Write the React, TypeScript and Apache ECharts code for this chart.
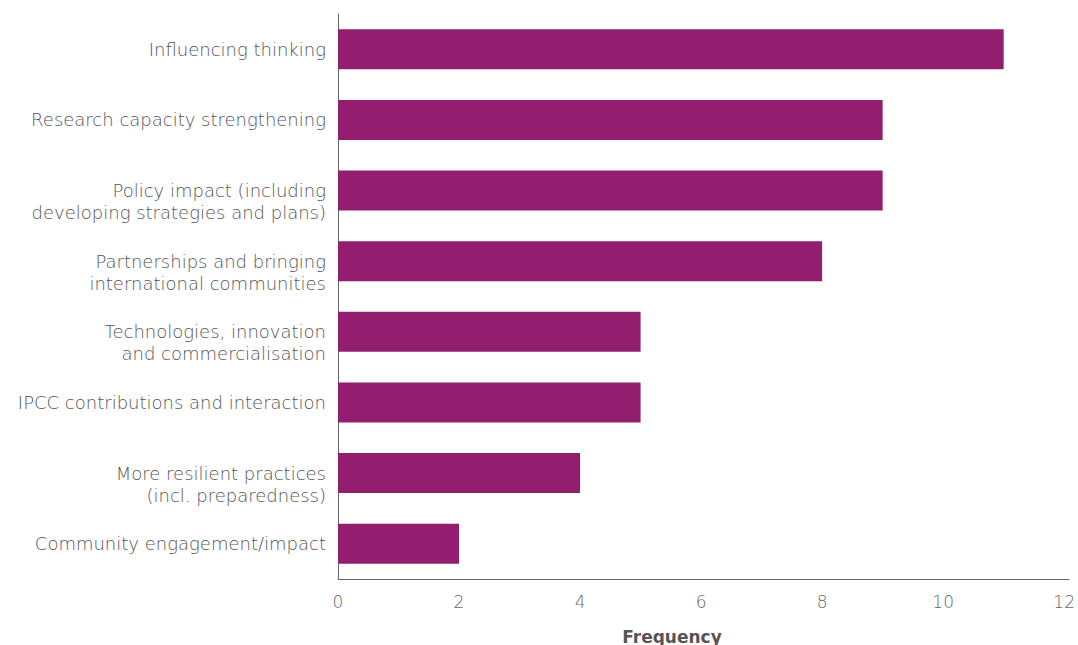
import React, { useEffect, useRef } from "react";
import * as echarts from "echarts";

const categories = [
  "Influencing thinking",
  "Research capacity strengthening",
  "Policy impact (including\ndeveloping strategies and plans)",
  "Partnerships and bringing\ninternational communities",
  "Technologies, innovation\nand commercialisation",
  "IPCC contributions and interaction",
  "More resilient practices\n(incl. preparedness)",
  "Community engagement/impact",
];
const frequencies = [11, 9, 9, 8, 5, 5, 4, 2];
const xTicks = [0, 2, 4, 6, 8, 10, 12];
const axisTitle = "Frequency";

export default function App() {
  const ref = useRef<HTMLDivElement>(null);
  useEffect(() => {
    if (!ref.current) return;
    const chart = echarts.init(ref.current, null, { renderer: "svg" });
    const font = "'DejaVu Sans', sans-serif";
    chart.setOption({
      animation: false,
      title: {
        text: axisTitle,
        left: 667,
        top: 623,
        textAlign: "center",
        textStyle: { fontFamily: font, fontSize: 17, fontWeight: "bold", color: "#555" },
      },
      grid: { left: 338, right: 3, top: 14, bottom: 66, containLabel: false },
      xAxis: {
        type: "value",
        min: 0,
        max: 12.08,
        interval: 2,
        axisLine: { show: true, lineStyle: { color: "#666", width: 1 } },
        axisTick: { show: false },
        splitLine: { show: false },
        axisLabel: {
          fontFamily: font,
          fontSize: 17,
          fontWeight: 200,
          color: "#666",
          margin: 14,
          formatter: (v: number) => (xTicks.includes(v) ? String(v) : ""),
        },
      },
      yAxis: {
        type: "category",
        data: categories,
        inverse: true,
        axisLine: { show: true, lineStyle: { color: "#666", width: 1 } },
        axisTick: { show: false },
        axisLabel: {
          fontFamily: font,
          fontSize: 18,
          fontWeight: 200,
          color: "#555",
          margin: 12,
          lineHeight: 22,
          align: "right",
          formatter: (v: string) => (v.includes("\n") ? "\u00a0\n" + v : v),
        },
      },
      series: [
        {
          type: "bar",
          data: frequencies,
          barWidth: 40,
          itemStyle: { color: "#931E6F" },
        },
      ],
    });
    return () => chart.dispose();
  }, []);
  return (
    <div
      ref={ref}
      style={{ position: "absolute", left: 0, top: 0, width: 1078, height: 645 }}
    />
  );
}
